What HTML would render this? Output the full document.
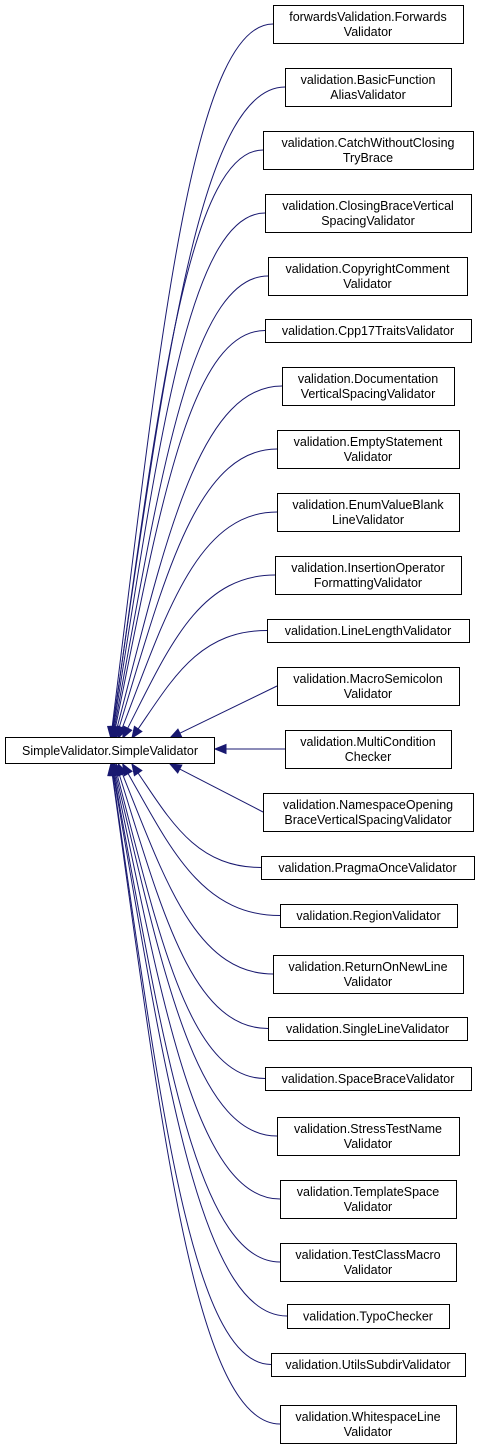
<!DOCTYPE html>
<html><head><meta charset="utf-8"><style>
html,body{margin:0;padding:0;background:#fff;width:479px;height:1447px;overflow:hidden}
svg{display:block}
text{font-family:"Liberation Sans",Arial,sans-serif;font-size:12.5px;fill:#000}
</style></head><body>
<svg id="s" width="479" height="1447" xmlns="http://www.w3.org/2000/svg"></svg>
<script>
const nodes=[
[273,463,5,43,["forwardsValidation.Forwards","Validator"]],
[285,451,68,106,["validation.BasicFunction","AliasValidator"]],
[263,473,131,169,["validation.CatchWithoutClosing","TryBrace"]],
[265,471,194,232,["validation.ClosingBraceVertical","SpacingValidator"]],
[268,467,257,295,["validation.CopyrightComment","Validator"]],
[265,471,319,342,["validation.Cpp17TraitsValidator"]],
[282,454,367,405,["validation.Documentation","VerticalSpacingValidator"]],
[277,459,430,468,["validation.EmptyStatement","Validator"]],
[277,459,493,531,["validation.EnumValueBlank","LineValidator"]],
[275,461,556,594,["validation.InsertionOperator","FormattingValidator"]],
[267,469,619,642,["validation.LineLengthValidator"]],
[277,459,667,705,["validation.MacroSemicolon","Validator"]],
[285,451,730,768,["validation.MultiCondition","Checker"]],
[263,473,793,831,["validation.NamespaceOpening","BraceVerticalSpacingValidator"]],
[261,474,856,879,["validation.PragmaOnceValidator"]],
[280,457,904,927,["validation.RegionValidator"]],
[273,463,955,993,["validation.ReturnOnNewLine","Validator"]],
[268,467,1017,1040,["validation.SingleLineValidator"]],
[265,471,1067,1090,["validation.SpaceBraceValidator"]],
[277,459,1117,1155,["validation.StressTestName","Validator"]],
[280,456,1180,1218,["validation.TemplateSpace","Validator"]],
[280,456,1243,1281,["validation.TestClassMacro","Validator"]],
[287,449,1304,1328,["validation.TypoChecker"]],
[271,465,1353,1376,["validation.UtilsSubdirValidator"]],
[280,456,1405,1443,["validation.WhitespaceLine","Validator"]]
];
let h='';
const C='#191970';
function arrow(x,y,px,py){const dx=x-px,dy=y-py,l=Math.hypot(dx,dy)||1,ux=dx/l,uy=dy/l,L=11,W=4.5;
 const bx=x-ux*L,by=y-uy*L;return {s:`<polygon points="${x},${y} ${bx-uy*W},${by+ux*W} ${bx+uy*W},${by-ux*W}" fill="${C}" stroke="${C}"/>`,bx,by};}
nodes.forEach((n,i)=>{
 const [x1,x2,y1,y2]=n,cy=(y1+y2)/2,d=i-12;
 if(d===0){h+=`<line x1="${x1}" y1="749" x2="226" y2="749" stroke="${C}"/>`+arrow(215,749,226,749).s;return;}
 const ad=Math.abs(d),ty=d<0?738:764;
 if(ad===1){const tx=170;const a=arrow(tx,ty,x1,cy);
  h+=`<line x1="${x1}" y1="${cy}" x2="${a.bx}" y2="${a.by}" stroke="${C}"/>`+a.s;return;}
 const tx=108+55/Math.pow(ad,1.2);
 const dy=Math.abs(cy-ty),sg=d<0?-1:1;
 const c2x=tx+0.3*(x1-tx),c2y=ty+sg*0.55*dy;
 const a=arrow(tx,ty,c2x,c2y);
 const c1x=x1-0.5*(x1-tx);
 h+=`<path d="M${x1},${cy} C${c1x},${cy} ${c2x},${c2y} ${a.bx},${a.by}" fill="none" stroke="${C}"/>`+a.s;
});
h+=`<rect x="5.5" y="737.5" width="209" height="26" fill="#fff" stroke="#000"/><text x="110" y="755" text-anchor="middle">SimpleValidator.SimpleValidator</text>`;
nodes.forEach(n=>{const [x1,x2,y1,y2,t]=n,cx=(x1+x2)/2;
 h+=`<rect x="${x1+.5}" y="${y1+.5}" width="${x2-x1}" height="${y2-y1}" fill="#fff" stroke="#000"/>`;
 if(t.length===1)h+=`<text x="${cx}" y="${(y1+y2)/2+4.5}" text-anchor="middle">${t[0]}</text>`;
 else h+=`<text x="${cx}" y="${y1+16}" text-anchor="middle">${t[0]}</text><text x="${cx}" y="${y1+31}" text-anchor="middle">${t[1]}</text>`;
});
document.getElementById('s').innerHTML=h;
</script>
</body></html>
